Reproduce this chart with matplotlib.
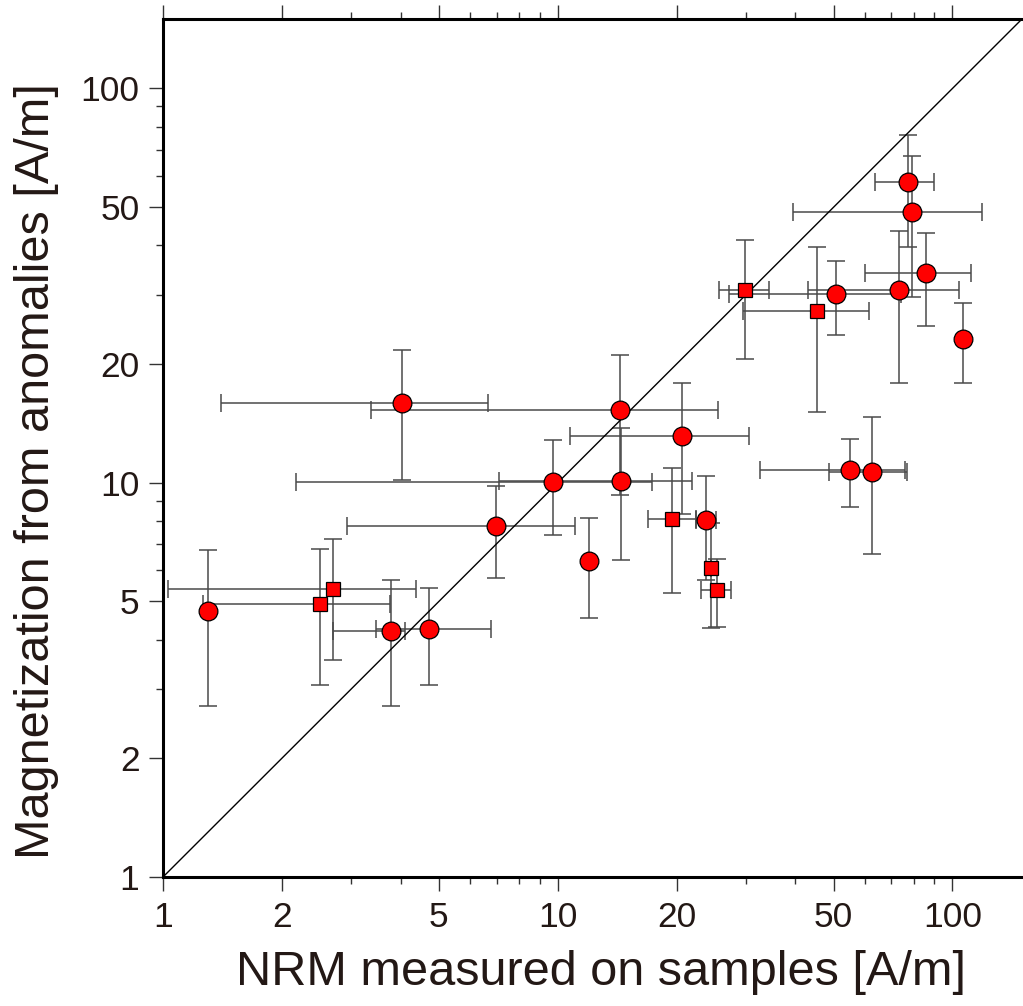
import numpy as np
import matplotlib
matplotlib.use('Agg')
import matplotlib.pyplot as plt
from matplotlib.ticker import FixedLocator, NullFormatter

plt.rcParams['font.family'] = ['Liberation Sans', 'DejaVu Sans']

# circles: x, y, x-error range, y-error range (None = no bar)
circ_x = [1.30, 3.77, 4.72, 4.03, 6.98, 9.75, 12.03, 14.4, 14.5, 20.6, 23.7,
          50.7, 73.3, 85.6, 77.1, 79.1, 106.2, 55.0, 62.5]
circ_y = [4.72, 4.20, 4.25, 15.9, 7.77, 10.07, 6.34, 15.3, 10.09, 13.1, 8.04,
          30.1, 30.8, 34.0, 57.9, 48.5, 23.2, 10.8, 10.65]
circ_xlo = [None, 2.69, 3.46, 1.40, 2.92, 2.17, None, 3.36, 7.09, 10.75, 22.4,
            27.1, 43.0, 59.9, 63.8, 39.4, None, 32.5, 48.8]
circ_xhi = [None, 4.10, 6.77, 6.66, 11.04, 17.3, None, 25.5, 21.9, 30.6, 25.1,
            74.1, 103.6, 111.3, 90.0, 118.6, None, 75.7, 76.6]
circ_ylo = [2.71, 2.72, 3.07, 10.15, 5.73, 7.36, 4.53, 9.33, 6.36, 8.32, 5.66,
            23.7, 17.9, 25.0, 39.5, 29.6, 17.9, 8.68, 6.58]
circ_yhi = [6.74, 5.66, 5.41, 21.7, 9.82, 12.8, 8.14, 21.1, 13.8, 17.9, 10.4,
            36.5, 43.6, 43.1, 76.1, 67.5, 28.5, 12.9, 14.7]

# squares
sq_x = [2.50, 2.70, 19.5, 24.5, 25.3, 29.8, 45.5]
sq_y = [4.92, 5.38, 8.07, 6.08, 5.36, 30.9, 27.3]
sq_xlo = [1.265, 1.03, 16.9, None, 23.0, 25.6, 29.5]
sq_xhi = [3.76, 4.38, 22.4, None, 27.5, 34.2, 61.5]
sq_ylo = [3.06, 3.55, 5.24, 4.27, 4.31, 20.6, 15.1]
sq_yhi = [6.78, 7.19, 10.9, 7.89, 6.40, 41.3, 39.6]

x_ticks = [1, 2, 5, 10, 20, 50, 100]
y_ticks = [1, 2, 5, 10, 20, 50, 100]
lim = (1, 150)


def err(v, lo, hi):
    v = np.array(v, dtype=float)
    lo = np.array([a if a is not None else b for a, b in zip(lo, v)], dtype=float)
    hi = np.array([a if a is not None else b for a, b in zip(hi, v)], dtype=float)
    return np.vstack([v - lo, hi - v])


def draw(ax, x, y, xlo, xhi, ylo, yhi, marker, ms):
    ax.errorbar(x, y, xerr=err(x, xlo, xhi), yerr=err(y, ylo, yhi), fmt='none',
                ecolor='#4a4a4a', elinewidth=1.1, capsize=6.5, capthick=1.1, zorder=2)
    ax.plot(x, y, linestyle='none', marker=marker, markersize=ms,
            markerfacecolor='#ff0000', markeredgecolor='black', markeredgewidth=0.9, zorder=4)


fig = plt.figure(figsize=(10.23, 10.06), dpi=100)
ax = fig.add_axes([163 / 1023, 1 - 877 / 1006, (1022 - 163) / 1023, (877 - 19) / 1006])
ax.set_xscale('log')
ax.set_yscale('log')
ax.set_xlim(*lim)
ax.set_ylim(*lim)

ax.plot(lim, lim, color='black', linewidth=1.0, zorder=3)
draw(ax, circ_x, circ_y, circ_xlo, circ_xhi, circ_ylo, circ_yhi, 'o', 13.5)
draw(ax, sq_x, sq_y, sq_xlo, sq_xhi, sq_ylo, sq_yhi, 's', 9.5)

minor = [v * d for d in (1, 10, 100) for v in (3, 4, 6, 7, 8, 9) if v * d < 150]
ax.xaxis.set_major_locator(FixedLocator(x_ticks))
ax.yaxis.set_major_locator(FixedLocator(y_ticks))
ax.xaxis.set_minor_locator(FixedLocator(minor))
ax.yaxis.set_minor_locator(FixedLocator(minor))
ax.xaxis.set_minor_formatter(NullFormatter())
ax.yaxis.set_minor_formatter(NullFormatter())
ax.set_xticklabels([str(t) for t in x_ticks])
ax.set_yticklabels([str(t) for t in y_ticks])

ax.tick_params(which='major', direction='out', length=10, width=1.0, labelsize=25.5,
               pad=7, color='#333333', top=True, labeltop=False)
ax.tick_params(which='minor', direction='out', length=5, width=1.0,
               color='#333333', top=True)
for s in ('left', 'bottom', 'top'):
    ax.spines[s].set_linewidth(2.2)
ax.spines['right'].set_visible(False)

ax.set_xlabel('NRM measured on samples [A/m]', fontsize=35, color='#231815')
ax.set_ylabel('Magnetization from anomalies [A/m]', fontsize=35, color='#231815')
ax.xaxis.set_label_coords(0.51, -0.085, transform=ax.transAxes)
ax.yaxis.set_label_coords(-0.121, 0.473, transform=ax.transAxes)
for lab in ax.get_xticklabels() + ax.get_yticklabels():
    lab.set_color('#231815')

fig.savefig('out.png', dpi=100)
